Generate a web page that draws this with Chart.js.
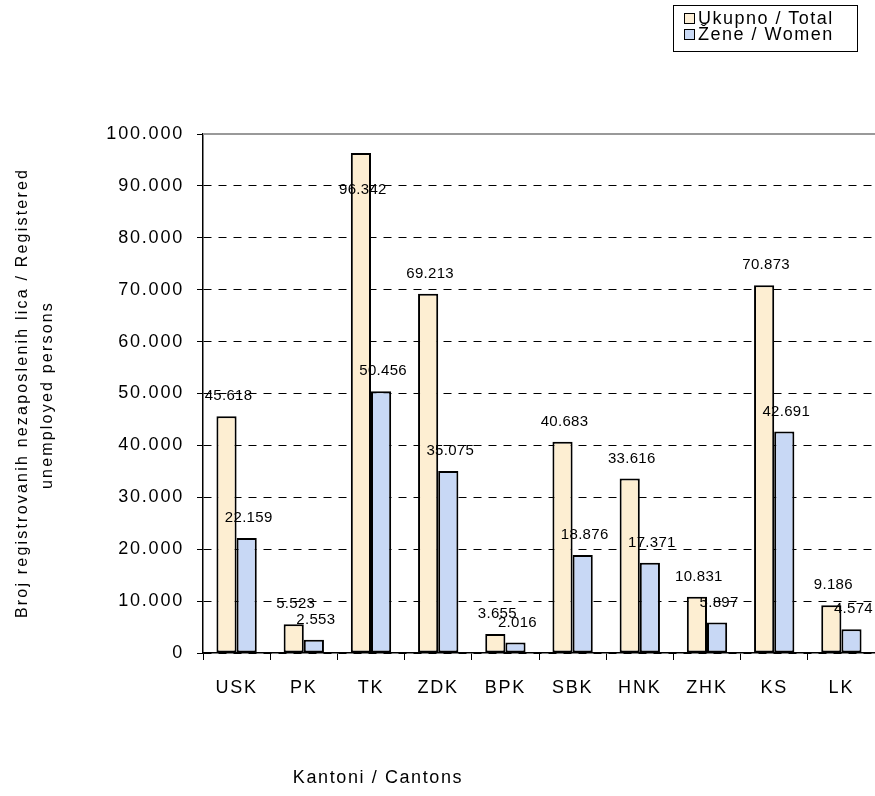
<!DOCTYPE html>
<html>
<head>
<meta charset="utf-8">
<script src="https://cdn.jsdelivr.net/npm/chart.js@4/dist/chart.umd.min.js"></script>
<style>
  body { margin: 0; background: #fff; font-family: "Liberation Sans", Arial, sans-serif; }
  #wrap { position: relative; width: 875px; height: 796px; }
  #legend {
    position: absolute; left: 673px; top: 5px; width: 185px; height: 47px;
    border: 1px solid #000; box-sizing: border-box; font-size: 18px; line-height: 16px;
    letter-spacing: 1.5px; padding: 4px 0 0 10px;
  }
  #legend span.box {
    display: inline-block; width: 9px; height: 9px; border: 1.5px solid #000;
    margin-right: 3px; vertical-align: 0px;
  }
</style>
</head>
<body>
<div id="wrap">
  <canvas id="chart" width="875" height="796"></canvas>
  <div id="legend">
    <div><span class="box" style="background:#fdefd6"></span>Ukupno / Total</div>
    <div><span class="box" style="background:#c9d9f5"></span>Žene / Women</div>
  </div>
</div>
<script>
// Cantons and unemployed counts
const cantons = ["USK", "PK", "TK", "ZDK", "BPK", "SBK", "HNK", "ZHK", "KS", "LK"];
const totalValues = [45618, 5523, 96342, 69213, 3655, 40683, 33616, 10831, 70873, 9186];
const womenValues = [22159, 2553, 50456, 35075, 2016, 18876, 17371, 5897, 42691, 4574];
const yTicks = [0, 10000, 20000, 30000, 40000, 50000, 60000, 70000, 80000, 90000, 100000];

const fmt = (v) => String(v).replace(/\B(?=(\d{3})+(?!\d))/g, ".");
const FONT = '"Liberation Sans", Arial, sans-serif';

// Draws value labels, axis titles and top border
const extras = {
  id: "extras",
  beforeDraw(chart) {
    chart.ctx.letterSpacing = "1.8px";
  },
  afterDatasetsDraw(chart) {
    const ctx = chart.ctx;
    const area = chart.chartArea;
    ctx.save();
    // top border of plot
    ctx.strokeStyle = "#999";
    ctx.lineWidth = 2;
    ctx.beginPath();
    ctx.moveTo(area.left, area.top);
    ctx.lineTo(area.right, area.top);
    ctx.stroke();

    ctx.fillStyle = "#000";
    ctx.letterSpacing = "0.3px";
    ctx.font = "15px " + FONT;
    ctx.textAlign = "center";
    ctx.textBaseline = "middle";
    chart.data.datasets.forEach((ds, i) => {
      chart.getDatasetMeta(i).data.forEach((bar, j) => {
        let y = bar.y - 20;
        if (y < area.top + 56) y = area.top + 56;
        ctx.fillText(fmt(ds.data[j]), bar.x + 2, y);
      });
    });

    // y axis title
    ctx.font = "16px " + FONT;
    ctx.letterSpacing = "2.2px";
    ctx.save();
    ctx.translate(23, 393);
    ctx.rotate(-Math.PI / 2);
    ctx.fillText("Broj registrovanih nezaposlenih lica / Registered", 0, 0);
    ctx.restore();
    ctx.save();
    ctx.translate(48, 395);
    ctx.rotate(-Math.PI / 2);
    ctx.fillText("unemployed persons", 0, 0);
    ctx.restore();

    // x axis title
    ctx.font = "18px " + FONT;
    ctx.letterSpacing = "1.6px";
    ctx.fillText("Kantoni / Cantons", 378, 778);
    ctx.restore();
  }
};

new Chart(document.getElementById("chart"), {
  type: "bar",
  data: {
    labels: cantons,
    datasets: [
      {
        label: "Ukupno / Total",
        data: totalValues,
        backgroundColor: "#fdeed2",
        borderColor: "#000",
        borderWidth: 2,
        borderSkipped: false,
      },
      {
        label: "Žene / Women",
        data: womenValues,
        backgroundColor: "#c8d8f5",
        borderColor: "#000",
        borderWidth: 2,
        borderSkipped: false,
      },
    ],
  },
  options: {
    responsive: false,
    animation: false,
    layout: { padding: { top: 134, right: 0, bottom: 0, left: 0 } },
    categoryPercentage: 0.6,
    barPercentage: 1.0,
    plugins: { legend: { display: false }, tooltip: { enabled: false } },
    scales: {
      x: {
        afterFit: (scale) => { scale.height = 796 - 653; },
        grid: {
          offset: true,
          drawOnChartArea: false,
          color: "#000",
          tickLength: 7,
        },
        border: { color: "#000", width: 1.5 },
        ticks: {
          color: "#000",
          padding: 17,
          autoSkip: false,
          maxRotation: 0,
          font: { size: 18, family: FONT },
        },
      },
      y: {
        min: 0,
        max: 100000,
        afterFit: (scale) => { scale.width = 203; },
        afterBuildTicks: (scale) => { scale.ticks = yTicks.map((v) => ({ value: v })); },
        grid: {
          color: (c) => (c.tick && c.tick.value === 100000 ? "rgba(0,0,0,0)" : "#000"),
          lineWidth: 1,
          tickLength: 6,
          tickColor: "#000",
        },
        border: { color: "#000", width: 1.5, dash: [8, 7] },
        ticks: {
          color: "#000",
          padding: 13,
          callback: (v) => fmt(v),
          font: { size: 18, family: FONT },
        },
      },
    },
  },
  plugins: [extras],
});
</script>
</body>
</html>
